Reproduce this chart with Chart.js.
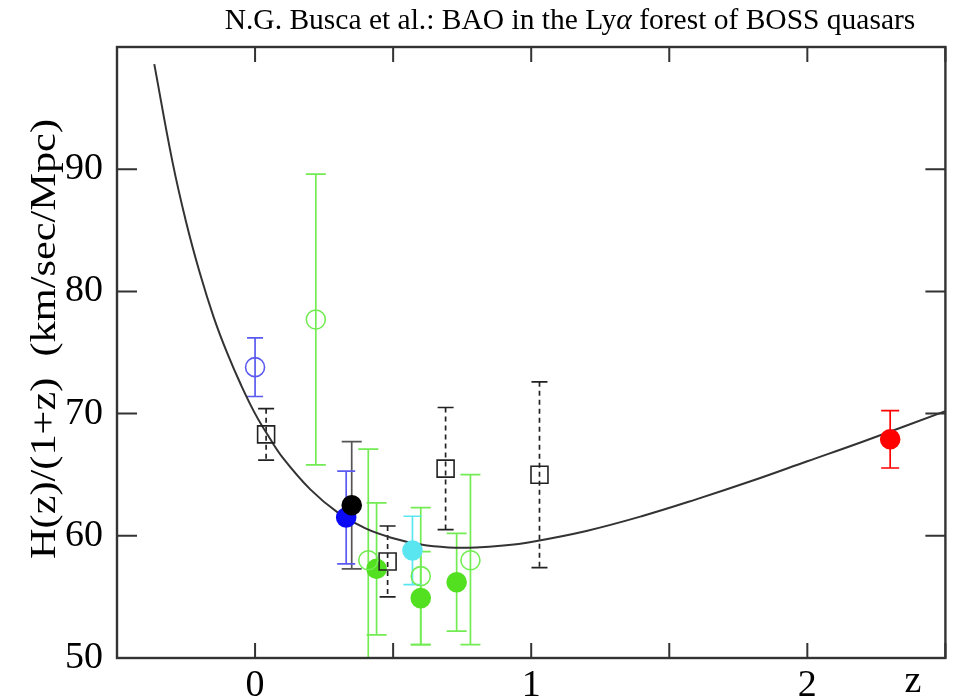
<!DOCTYPE html>
<html>
<head>
<meta charset="utf-8">
<script src="https://cdn.jsdelivr.net/npm/chart.js@4"></script>
<style>
  body { margin: 0; background: #fff; }
  #wrap { width: 959px; height: 699px; position: relative; }
</style>
</head>
<body>
<div id="wrap"><canvas id="grafico"></canvas></div>
<script>
// model curve H(z)/(1+z)
const curveZ = [-0.365, -0.3, -0.25, -0.2, -0.15, -0.1, -0.05, 0, 0.05, 0.1, 0.2, 0.3, 0.4, 0.5, 0.6, 0.7, 0.8, 0.9, 1.0, 1.2, 1.4, 1.6, 1.8, 2.0, 2.2, 2.5];
const curveH = [98.6, 90.7, 85.7, 81.5, 77.9, 74.9, 72.3, 70.0, 68.1, 66.4, 63.8, 61.9, 60.6, 59.8, 59.28, 59.05, 59.04, 59.2, 59.5, 60.4, 61.6, 63.0, 64.5, 66.1, 67.7, 70.2];

// measurements: z, value, error up, error down
const blueOpenZ = [0.0];
const blueOpenH = [73.8];
const blueOpenErr = [2.4];

const greenOpenZ = [0.22, 0.41, 0.60, 0.78];
const greenOpenH = [77.7, 58.0, 56.7, 58.0];
const greenOpenErrUp = [11.9, 9.1, 5.6, 7.0];
const greenOpenErrDn = [11.9, 8.0, 5.6, 6.9];

const greenFilledZ = [0.44, 0.60, 0.73];
const greenFilledH = [57.3, 54.9, 56.2];
const greenFilledErr = [5.4, 3.8, 4.0];

const squareZ = [0.04, 0.48, 0.69, 1.03];
const squareH = [68.3, 57.9, 65.5, 65.0];
const squareErr = [2.1, 2.9, 5.0, 7.6];

const blackZ = [0.35];
const blackH = [62.5];
const blackErr = [5.2];

const blueZ = [0.33];
const blueH = [61.5];
const blueErr = [3.8];

const cyanZ = [0.57];
const cyanH = [58.8];
const cyanErr = [2.8];

const redZ = [2.30];
const redH = [67.9];
const redErr = [2.35];

const xTicks = [0, 1, 2];
const yTicks = [50, 60, 70, 80, 90];

const SERIF = "'Liberation Serif', 'DejaVu Serif', serif";

function pts(zs, hs) {
    return zs.map((z, i) => ({ x: z, y: hs[i] }));
}

function serie(zs, hs, up, dn, opts) {
    return Object.assign({
        type: 'scatter',
        data: pts(zs, hs),
        errUp: up,
        errDn: dn || up,
        pointStyle: 'circle',
        pointRadius: 9.5,
        borderWidth: 1.6
    }, opts);
}

const datasets = [
    {
        type: 'line',
        data: pts(curveZ, curveH),
        borderColor: '#333',
        borderWidth: 2,
        pointRadius: 0,
        tension: 0.4,
        fill: false,
        order: 5
    },
    serie(blueOpenZ, blueOpenH, blueOpenErr, null, { borderColor: '#5a5af0', backgroundColor: 'rgba(0,0,0,0)', barColor: '#5a5af0', cap: 8 }),
    serie(greenOpenZ, greenOpenH, greenOpenErrUp, greenOpenErrDn, { borderColor: '#72ec52', backgroundColor: 'rgba(0,0,0,0)', barColor: '#72ec52', cap: 10 }),
    serie(squareZ, squareH, squareErr, null, { pointStyle: 'rect', pointRadius: 12, borderColor: '#222', backgroundColor: 'rgba(0,0,0,0)', barColor: '#222', cap: 8, dashed: true }),
    serie(blackZ, blackH, blackErr, null, { borderColor: '#000', backgroundColor: '#000', barColor: '#555', cap: 10 }),
    serie(blueZ, blueH, blueErr, null, { borderColor: '#0a0af5', backgroundColor: '#0a0af5', barColor: '#5a5af0', cap: 9 }),
    serie(greenFilledZ, greenFilledH, greenFilledErr, null, { borderColor: '#52e020', backgroundColor: '#52e020', barColor: '#72ec52', cap: 10 }),
    serie(cyanZ, cyanH, cyanErr, null, { borderColor: '#5ae6f0', backgroundColor: '#5ae6f0', barColor: '#5ae6f0', cap: 9 }),
    serie(redZ, redH, redErr, null, { borderColor: '#f00', backgroundColor: '#f00', barColor: '#f00', cap: 9 })
];

const errorBars = {
    id: 'errorBars',
    beforeDatasetsDraw(chart) {
        const { ctx, chartArea, scales } = chart;
        ctx.save();
        ctx.beginPath();
        ctx.rect(chartArea.left, chartArea.top - 1, chartArea.right - chartArea.left, chartArea.bottom - chartArea.top + 2);
        ctx.clip();
        chart.data.datasets.forEach(ds => {
            if (!ds.errUp) return;
            ctx.strokeStyle = ds.barColor;
            ctx.lineWidth = 1.7;
            ds.data.forEach((p, i) => {
                const x = scales.x.getPixelForValue(p.x);
                const yt = scales.y.getPixelForValue(p.y + ds.errUp[i]);
                const yb = scales.y.getPixelForValue(p.y - ds.errDn[i]);
                ctx.setLineDash(ds.dashed ? [5, 4] : []);
                ctx.beginPath();
                ctx.moveTo(x, yt);
                ctx.lineTo(x, yb);
                ctx.stroke();
                ctx.setLineDash([]);
                ctx.beginPath();
                ctx.moveTo(x - ds.cap, yt);
                ctx.lineTo(x + ds.cap, yt);
                ctx.moveTo(x - ds.cap, yb);
                ctx.lineTo(x + ds.cap, yb);
                ctx.stroke();
            });
        });
        ctx.restore();
    }
};

const frame = {
    id: 'frame',
    afterDraw(chart) {
        const { ctx, chartArea: a, scales } = chart;
        ctx.save();
        ctx.strokeStyle = '#333';
        ctx.lineWidth = 2.4;
        ctx.strokeRect(a.left, a.top, a.right - a.left, a.bottom - a.top);
        ctx.lineWidth = 2;
        ctx.beginPath();
        scales.x.ticks.forEach(t => {
            const x = scales.x.getPixelForValue(t.value);
            ctx.moveTo(x, a.bottom); ctx.lineTo(x, a.bottom - 15);
            ctx.moveTo(x, a.top); ctx.lineTo(x, a.top + 15);
        });
        scales.y.ticks.forEach(t => {
            const y = scales.y.getPixelForValue(t.value);
            ctx.moveTo(a.left, y); ctx.lineTo(a.left + 20, y);
            ctx.moveTo(a.right, y); ctx.lineTo(a.right - 20, y);
        });
        ctx.stroke();

        ctx.fillStyle = '#000';
        // title
        ctx.textBaseline = 'alphabetic';
        ctx.textAlign = 'left';
        const fs = 29.5;
        const p1 = 'N.G. Busca et al.: BAO in the Ly';
        const p2 = '\u03b1';
        const p3 = ' forest of BOSS quasars';
        ctx.font = fs + 'px ' + SERIF;
        const w1 = ctx.measureText(p1).width;
        const w3 = ctx.measureText(p3).width;
        ctx.font = 'italic ' + fs + 'px ' + SERIF;
        const w2 = ctx.measureText(p2).width;
        const x0 = 570 - (w1 + w2 + w3) / 2;
        ctx.font = fs + 'px ' + SERIF;
        ctx.fillText(p1, x0, 29);
        ctx.font = 'italic ' + fs + 'px ' + SERIF;
        ctx.fillText(p2, x0 + w1, 29);
        ctx.font = fs + 'px ' + SERIF;
        ctx.fillText(p3, x0 + w1 + w2, 29);

        // axis titles
        ctx.font = '38px ' + SERIF;
        ctx.textAlign = 'center';
        ctx.textBaseline = 'middle';
        ctx.fillText('z', 913, 682);

        const yTitle = 'H(z)/(1+z)  (km/sec/Mpc)';
        ctx.font = '36px ' + SERIF;
        ctx.textBaseline = 'alphabetic';
        const wy = ctx.measureText(yTitle).width;
        ctx.save();
        ctx.translate(55, 339);
        ctx.rotate(-Math.PI / 2);
        ctx.scale(440 / wy, 1);
        ctx.fillText(yTitle, 0, 0);
        ctx.restore();
        ctx.restore();
    }
};

new Chart(document.getElementById('grafico').getContext('2d'), {
    data: { datasets: datasets },
    options: {
        responsive: true,
        maintainAspectRatio: false,
        animation: false,
        layout: { padding: { left: 0, top: 47, right: 9, bottom: 0 } },
        plugins: { legend: { display: false }, tooltip: { enabled: false }, title: { display: false } },
        scales: {
            x: {
                type: 'linear',
                min: -0.5,
                max: 2.5,
                grid: { display: false },
                border: { display: false },
                afterFit: s => { s.height = 41; },
                ticks: {
                    stepSize: 0.5,
                    autoSkip: false,
                    maxRotation: 0,
                    padding: -3,
                    color: '#000',
                    font: { family: SERIF, size: 38 },
                    callback: v => xTicks.includes(v) ? String(v) : ''
                }
            },
            y: {
                type: 'linear',
                min: 50,
                max: 100,
                grid: { display: false },
                border: { display: false },
                afterFit: s => { s.width = 117; },
                ticks: {
                    stepSize: 10,
                    padding: 6,
                    color: '#000',
                    font: { family: SERIF, size: 38 },
                    callback: v => yTicks.includes(v) ? String(v) : ''
                }
            }
        }
    },
    plugins: [errorBars, frame]
});
</script>
</body>
</html>
